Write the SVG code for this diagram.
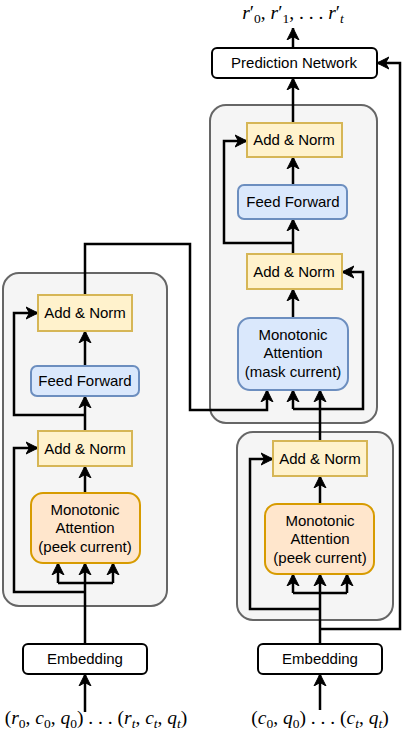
<svg xmlns="http://www.w3.org/2000/svg" width="402" height="732" viewBox="0 0 402 732">
<style>
.cont{fill:#f5f5f5;stroke:#666666;stroke-width:2}
.an{fill:#fff2cc;stroke:#d6b656;stroke-width:2}
.ff{fill:#dae8fc;stroke:#6c8ebf;stroke-width:2}
.pk{fill:#ffe6cc;stroke:#d79b00;stroke-width:2}
.wb{fill:#ffffff;stroke:#000000;stroke-width:2}
.t{font-family:"Liberation Sans",Arial,sans-serif;font-size:15px;fill:#000;text-anchor:middle}
.m{font-family:"Liberation Serif","Times New Roman",serif;font-size:19.5px;fill:#000;text-anchor:middle}
.s{font-size:13.5px}
.c path{fill:none;stroke:#000;stroke-width:2.5}
</style>
<defs>
<marker id="ar" markerUnits="userSpaceOnUse" markerWidth="14" markerHeight="14" viewBox="-12 -7 14 14" refX="0" refY="0" orient="auto">
<path d="M0,0 L-12,-6 L-8.5,0 L-12,6 z" fill="#000" stroke="#000" stroke-width="1"/>
</marker>
</defs>
<g id="left-container"><rect class="cont" x="3" y="273" width="164" height="333" rx="16"/></g>
<g id="right-top-container"><rect class="cont" x="210" y="105" width="167" height="318" rx="16"/></g>
<g id="right-bottom-container"><rect class="cont" x="237" y="432" width="156" height="188" rx="16"/></g>
<g class="c" id="connectors">
<path d="M85,644 V563" marker-end="url(#ar)"/>
<path d="M58,583 H113"/>
<path d="M58,583 V563" marker-end="url(#ar)"/>
<path d="M113,583 V563" marker-end="url(#ar)"/>
<path d="M85,592 H14 V448 H38" marker-end="url(#ar)"/>
<path d="M85,493 V466" marker-end="url(#ar)"/>
<path d="M85,415 H14 V313 H38" marker-end="url(#ar)"/>
<path d="M85,431 V396" marker-end="url(#ar)"/>
<path d="M85,366 V331" marker-end="url(#ar)"/>
<path d="M85,295 V244 H190 V410 H267 V390" marker-end="url(#ar)"/>
<path d="M85,712 V674" marker-end="url(#ar)"/>
<path d="M320,710 V674" marker-end="url(#ar)"/>
<path d="M320,644 V574" marker-end="url(#ar)"/>
<path d="M293,593 H347"/>
<path d="M293,593 V574" marker-end="url(#ar)"/>
<path d="M347,593 V574" marker-end="url(#ar)"/>
<path d="M320,609 H250 V459 H273" marker-end="url(#ar)"/>
<path d="M320,629 H400 V63 H377" marker-end="url(#ar)"/>
<path d="M320,504 V476" marker-end="url(#ar)"/>
<path d="M320,441 V390" marker-end="url(#ar)"/>
<path d="M293,409 H363 V272 H342" marker-end="url(#ar)"/>
<path d="M293,409 V390" marker-end="url(#ar)"/>
<path d="M293,318 V289" marker-end="url(#ar)"/>
<path d="M293,254 V219" marker-end="url(#ar)"/>
<path d="M293,243 H224 V141 H247" marker-end="url(#ar)"/>
<path d="M293,185 V157" marker-end="url(#ar)"/>
<path d="M293,123 V78" marker-end="url(#ar)"/>
<path d="M293,48 V28" marker-end="url(#ar)"/>
</g>
<g id="l-addnorm-top"><rect class="an" x="38" y="295" width="94" height="36"/><text class="t" x="85" y="318">Add &amp; Norm</text></g>
<g id="l-feedforward"><rect class="ff" x="31" y="366" width="108" height="30" rx="6"/><text class="t" x="85" y="386">Feed Forward</text></g>
<g id="l-addnorm-bottom"><rect class="an" x="38" y="431" width="94" height="35"/><text class="t" x="85" y="454">Add &amp; Norm</text></g>
<g id="l-attention"><rect class="pk" x="31" y="493" width="109" height="70" rx="12"/><text class="t" x="85" y="515">Monotonic</text><text class="t" x="85" y="533">Attention</text><text class="t" x="85" y="552">(peek current)</text></g>
<g id="l-embedding"><rect class="wb" x="23" y="644" width="124" height="30" rx="5"/><text class="t" x="85" y="664">Embedding</text></g>
<g id="prediction"><rect class="wb" x="212" y="48" width="165" height="30" rx="5"/><text class="t" x="294" y="68">Prediction Network</text></g>
<g id="r-addnorm-top"><rect class="an" x="247" y="123" width="95" height="34"/><text class="t" x="294" y="145">Add &amp; Norm</text></g>
<g id="r-feedforward"><rect class="ff" x="238" y="185" width="109" height="34" rx="6"/><text class="t" x="293" y="207">Feed Forward</text></g>
<g id="r-addnorm-bottom"><rect class="an" x="247" y="254" width="95" height="35"/><text class="t" x="294" y="277">Add &amp; Norm</text></g>
<g id="r-attention"><rect class="ff" x="238" y="318" width="110" height="72" rx="12"/><text class="t" x="293" y="340">Monotonic</text><text class="t" x="293" y="358">Attention</text><text class="t" x="293" y="377">(mask current)</text></g>
<g id="rb-addnorm"><rect class="an" x="273" y="441" width="94" height="35"/><text class="t" x="320" y="464">Add &amp; Norm</text></g>
<g id="rb-attention"><rect class="pk" x="265" y="504" width="109" height="70" rx="12"/><text class="t" x="320" y="526">Monotonic</text><text class="t" x="320" y="544">Attention</text><text class="t" x="320" y="563">(peek current)</text></g>
<g id="r-embedding"><rect class="wb" x="258" y="644" width="124" height="30" rx="5"/><text class="t" x="320" y="664">Embedding</text></g>
<g id="output-label"><text class="m" x="293" y="19"><tspan font-style="italic">r</tspan><tspan>′</tspan><tspan class="s" dy="4">0</tspan><tspan dy="-4">, </tspan><tspan font-style="italic">r</tspan><tspan>′</tspan><tspan class="s" dy="4">1</tspan><tspan dy="-4">, . . . </tspan><tspan font-style="italic">r</tspan><tspan>′</tspan><tspan class="s" font-style="italic" dy="4">t</tspan></text></g>
<g id="left-input"><text class="m" x="96" y="724">(<tspan font-style="italic">r</tspan><tspan class="s" dy="4">0</tspan><tspan dy="-4">, </tspan><tspan font-style="italic">c</tspan><tspan class="s" dy="4">0</tspan><tspan dy="-4">, </tspan><tspan font-style="italic">q</tspan><tspan class="s" dy="4">0</tspan><tspan dy="-4">) . . . (</tspan><tspan font-style="italic">r</tspan><tspan class="s" font-style="italic" dy="4">t</tspan><tspan dy="-4">, </tspan><tspan font-style="italic">c</tspan><tspan class="s" font-style="italic" dy="4">t</tspan><tspan dy="-4">, </tspan><tspan font-style="italic">q</tspan><tspan class="s" font-style="italic" dy="4">t</tspan><tspan dy="-4">)</tspan></text></g>
<g id="right-input"><text class="m" x="320" y="724">(<tspan font-style="italic">c</tspan><tspan class="s" dy="4">0</tspan><tspan dy="-4">, </tspan><tspan font-style="italic">q</tspan><tspan class="s" dy="4">0</tspan><tspan dy="-4">) . . . (</tspan><tspan font-style="italic">c</tspan><tspan class="s" font-style="italic" dy="4">t</tspan><tspan dy="-4">, </tspan><tspan font-style="italic">q</tspan><tspan class="s" font-style="italic" dy="4">t</tspan><tspan dy="-4">)</tspan></text></g>
</svg>
